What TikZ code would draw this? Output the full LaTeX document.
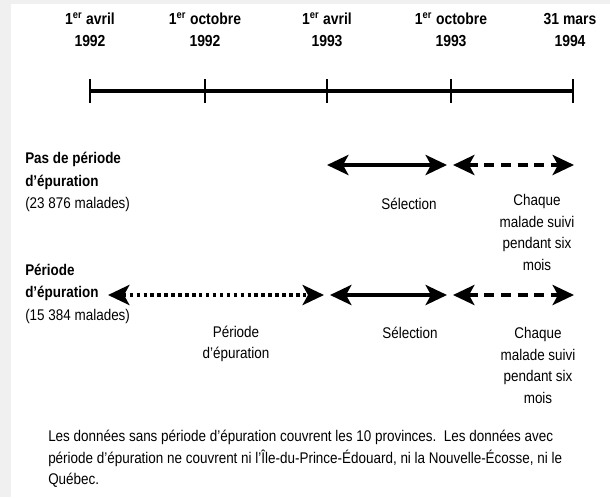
\documentclass[tikz,border=0pt]{standalone}
\usepackage{fontspec}
\setmainfont{Liberation Sans}[FakeStretch=0.87]
\usetikzlibrary{arrows.meta}
\definecolor{bggray}{HTML}{F0F0F0}
\tikzset{
  bigtip/.tip={Stealth[length=16pt,width=15pt,inset=4pt]},
  txt/.style={inner sep=0pt, font=\fontsize{11.6}{16.3}\selectfont},
  datelab/.style={inner sep=0pt, align=center, font=\bfseries\fontsize{12}{16.5}\selectfont},
  rowlab/.style={inner sep=0pt, align=left, anchor=west, font=\fontsize{11.6}{16.9}\selectfont},
  sublab/.style={txt, align=center},
  timeline/.style={line width=3pt},
  tickmark/.style={line width=1pt},
  solidarrow/.style={line width=3pt, {bigtip}-{bigtip}},
  dasharrow/.style={line width=3pt, dash pattern=on 7.5pt off 5pt, {bigtip}-{bigtip}},
  dotarrow/.style={line width=3pt, dash pattern=on 2.6pt off 2.6pt, {bigtip}-{bigtip}},
}
\begin{document}
\begin{tikzpicture}[x=0.75pt,y=-0.75pt]
\useasboundingbox (0,0) rectangle (610,497);
\fill[bggray] (0,0) rectangle (610,497);
\fill[white] (10.5,4) rectangle (610,497);

% dates
\node[datelab] (d1) at (90,30) {1\textsuperscript{er} avril\\1992};
\node[datelab] (d2) at (205,30) {1\textsuperscript{er} octobre\\1992};
\node[datelab] (d3) at (327,30) {1\textsuperscript{er} avril\\1993};
\node[datelab] (d4) at (451,30) {1\textsuperscript{er} octobre\\1993};
\node[datelab] (d5) at (570,30) {31 mars\\1994};

% timeline
\foreach \i/\x in {1/90,2/205,3/327,4/451,5/573}{
  \coordinate (t\i) at (\x,91);
  \coordinate (t\i u) at (\x,79);
  \coordinate (t\i d) at (\x,103);
  \draw[tickmark] (t\i u) -- (t\i d);
}
\draw[timeline] (t1) -- (t5);

% row 1
\node[rowlab] (lab1) at (25,182) {\textbf{Pas de période}\\\textbf{d’épuration}\\(23 876 malades)};
\coordinate (a1) at (327,165);
\coordinate (a2) at (447,165);
\coordinate (a3) at (453,165);
\coordinate (a4) at (574,165);
\draw[solidarrow] (a1) -- (a2);
\draw[dasharrow] (a3) -- (a4);
\node[sublab] (sel1) at (409,204) {Sélection};
\node[sublab] (ch1) at (537,232.5) {Chaque\\malade suivi\\pendant six\\mois};

% row 2
\node[rowlab] (lab2) at (25,293.5) {\textbf{Période}\\\textbf{d’épuration}\\(15 384 malades)};
\coordinate (b0) at (108,295);
\coordinate (b1) at (324,295);
\coordinate (b2) at (330,295);
\coordinate (b3) at (447,295);
\coordinate (b4) at (453,295);
\coordinate (b5) at (574,295);
\draw[dotarrow] (b0) -- (b1);
\draw[solidarrow] (b2) -- (b3);
\draw[dasharrow] (b4) -- (b5);
\node[sublab] (ep2) at (236,344) {Période\\d’épuration};
\node[sublab] (sel2) at (410,333) {Sélection};
\node[sublab] (ch2) at (538,365.5) {Chaque\\malade suivi\\pendant six\\mois};

% footnote
\node[txt, align=left, anchor=west] (foot) at (48,459) {Les données sans période d’épuration couvrent les 10 provinces.\ \ Les données avec\\période d’épuration ne couvrent ni l’Île-du-Prince-Édouard, ni la Nouvelle-Écosse, ni le\\Québec.};
\end{tikzpicture}
\end{document}
